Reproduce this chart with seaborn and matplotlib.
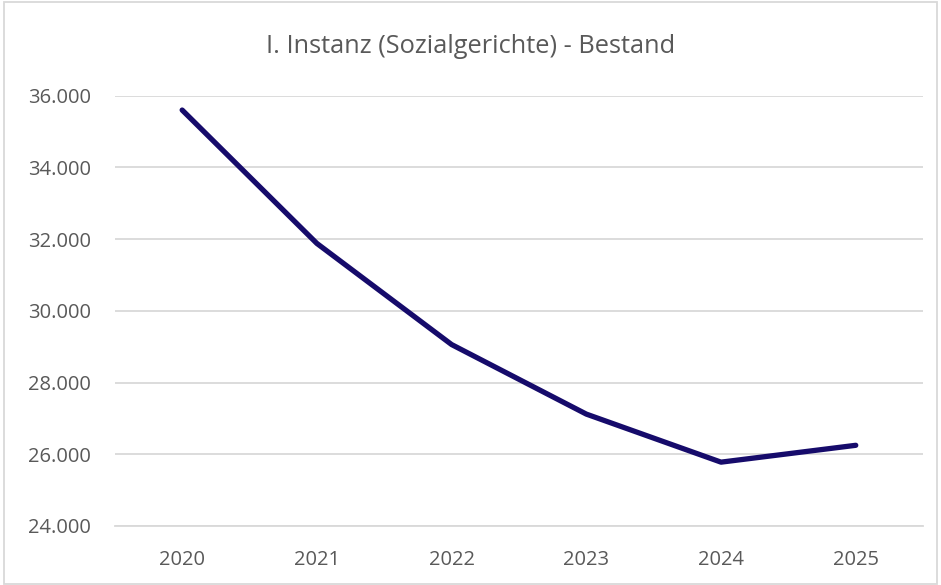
import pandas as pd
import seaborn as sns
from matplotlib import pyplot as plt
from matplotlib.ticker import FuncFormatter, MultipleLocator
from matplotlib.patches import Rectangle

years = ['2020', '2021', '2022', '2023', '2024', '2025']
bestand = [35600, 31880, 29060, 27120, 25780, 26250]

title = 'I. Instanz (Sozialgerichte) - Bestand'
line_color = '#160B6B'
grid_color = '#D9D9D9'
text_color = '#595959'

sns.set_style('white')
plt.rcParams['font.family'] = ['Open Sans', 'DejaVu Sans']

df = pd.DataFrame({'Jahr': years, 'Bestand': bestand})

fig = plt.figure(figsize=(9.41, 5.85), dpi=100)
ax = fig.add_axes([0.122, 0.1009, 0.859, 0.7355])

sns.lineplot(data=df, x='Jahr', y='Bestand', ax=ax, color=line_color,
             linewidth=3.8, solid_capstyle='round', solid_joinstyle='round')

ax.set_xlim(-0.5, len(years) - 0.5)
ax.set_ylim(24000, 36000)
ax.yaxis.set_major_locator(MultipleLocator(2000))
ax.yaxis.set_major_formatter(FuncFormatter(lambda v, p: f'{int(v):,}'.replace(',', '.')))
ax.grid(axis='y', color=grid_color, linewidth=1.3)
ax.set_axisbelow(True)

for side in ['top', 'right', 'left']:
    ax.spines[side].set_visible(False)
ax.spines['bottom'].set_color(grid_color)
ax.spines['bottom'].set_linewidth(1.3)

ax.tick_params(axis='both', length=0, labelsize=14.5, labelcolor=text_color)
ax.tick_params(axis='y', pad=17)
ax.tick_params(axis='x', pad=17)
ax.set_xlabel('')
ax.set_ylabel('')

fig.text(0.5, 0.92, title, ha='center', va='center', fontsize=18.3, color=text_color)

# Rahmen um das Diagramm
fig.patches.append(Rectangle((0.004, 0.002), 0.992, 0.995, transform=fig.transFigure,
                             fill=False, edgecolor=grid_color, linewidth=1.3))

fig.savefig('out.png', dpi=100, facecolor='white')
